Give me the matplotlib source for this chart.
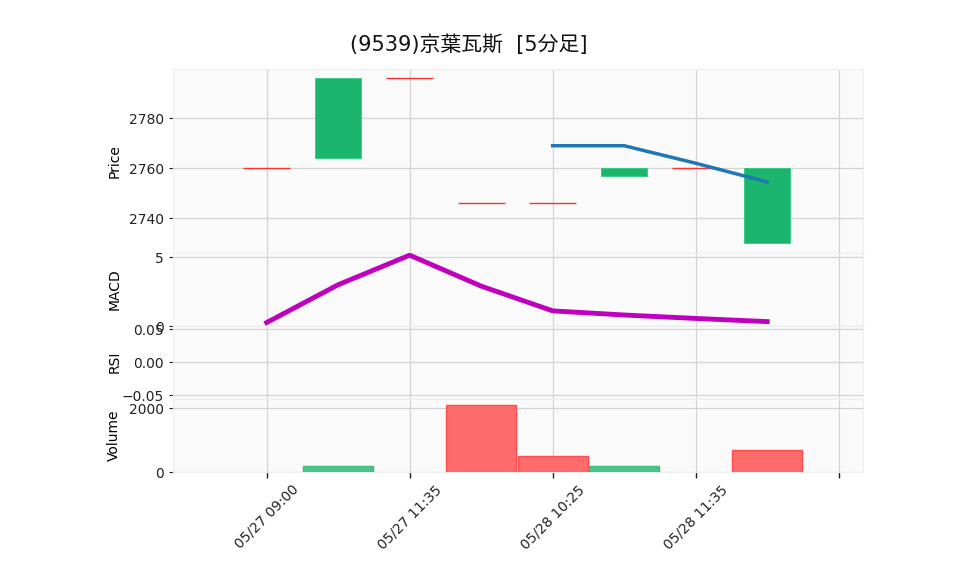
import numpy as np
import matplotlib
matplotlib.use("Agg")
import matplotlib.pyplot as plt

plt.rcParams['font.family'] = ['DejaVu Sans', 'Noto Sans CJK JP']

# ---- data ----
x_labels = ["05/27 09:00", "05/27 11:35", "05/28 10:25", "05/28 11:35", ""]
label_pos = [0, 2, 4, 6, 8]
opens = [2760, 2764, 2796, 2746, 2746, 2757, 2760, 2730]
closes = [2760, 2796, 2796, 2746, 2746, 2760, 2760, 2760]
ma5 = [np.nan, np.nan, np.nan, np.nan, 2769, 2769, 2762, 2754.5]
macd = [0.25, 3.0, 5.15, 2.9, 1.1, 0.8, 0.55, 0.32]
volume = [0, 200, 0, 2100, 500, 200, 0, 700]
vol_up = [False, True, False, False, False, True, False, False]
title = "(9539)京葉瓦斯  [5分足]"

W, H = 958, 575
fig = plt.figure(figsize=(W / 100, H / 100), dpi=100)

def ax_px(left, top, right, bottom):
    return fig.add_axes([left / W, 1 - bottom / H, (right - left) / W, (bottom - top) / H])

L, R = 173, 863
ax_p = ax_px(L, 69, R, 252.7)
ax_m = ax_px(L, 252.7, R, 326)
ax_r = ax_px(L, 326, R, 398.6)
ax_v = ax_px(L, 398.6, R, 472)

face = '#fafafa'
gridc = '#d3d3d3'
for ax in (ax_p, ax_m, ax_r, ax_v):
    ax.set_facecolor(face)
    ax.grid(True, color=gridc, linewidth=0.9)
    ax.set_axisbelow(True)
    for s in ax.spines.values():
        s.set_color('#eeeeee')
        s.set_linewidth(0.8)
    ax.set_xlim(-1.31, 8.34)
    ax.set_xticks(label_pos)
    ax.tick_params(axis='y', labelsize=10, colors='#222222', length=3, width=0.8)
    ax.tick_params(axis='x', colors='#222222')

for ax in (ax_p, ax_m, ax_r):
    ax.tick_params(axis='x', length=0, labelbottom=False)

x = np.arange(len(opens))
up_c = '#1bb56e'
dn_c = '#ff3030'
o = np.array(opens, float)
c = np.array(closes, float)
flat = c == o
body = ~flat
ax_p.bar(x[body], np.abs(c - o)[body], bottom=np.minimum(o, c)[body], width=0.65,
         color=up_c, edgecolor='#2ecc80', linewidth=0.6, zorder=3)
ax_p.hlines(c[flat], x[flat] - 0.33, x[flat] + 0.33, color=dn_c, linewidth=1.0, zorder=3)
ax_p.plot(x, ma5, color='#1f77b4', linewidth=2.5, zorder=4)
ax_p.set_ylim(2726.2, 2799.7)
ax_p.set_yticks([2740, 2760, 2780])
ax_p.set_ylabel('Price', fontsize=10)

ax_m.plot(x, macd, color='#bf00bf', linewidth=3.5, zorder=3)
ax_m.set_ylim(0, 5.33)
ax_m.set_yticks([0, 5])
ax_m.set_ylabel('MACD', fontsize=10)

ax_r.set_ylim(-0.055, 0.055)
ax_r.set_yticks([-0.05, 0.0, 0.05])
ax_r.set_ylabel('RSI', fontsize=10)

vcol = ['#4cc48a' if u else '#ff6b6b' for u in vol_up]
vedge = ['#3dbb7e' if u else '#ff4d4d' for u in vol_up]
vlw = [1.0 if v > 0 else 0.0 for v in volume]
ax_v.bar(x, volume, width=0.98, color=vcol, edgecolor=vedge, linewidth=vlw, zorder=3)
ax_v.set_ylim(0, 2306)
ax_v.set_yticks([0, 2000])
ax_v.set_ylabel('Volume', fontsize=10)
ax_v.set_xticklabels(x_labels, rotation=45, ha='center', fontsize=10)
ax_v.tick_params(axis='x', length=4, width=1.0, colors='#222222')

for ax in (ax_p, ax_m, ax_r, ax_v):
    ax.yaxis.set_label_coords(-0.075, 0.5)

fig.text(468.5 / W, 1 - 45 / H, title, ha='center', va='center', fontsize=15, color='#111111')

fig.savefig('out.png', dpi=100, facecolor='white')
